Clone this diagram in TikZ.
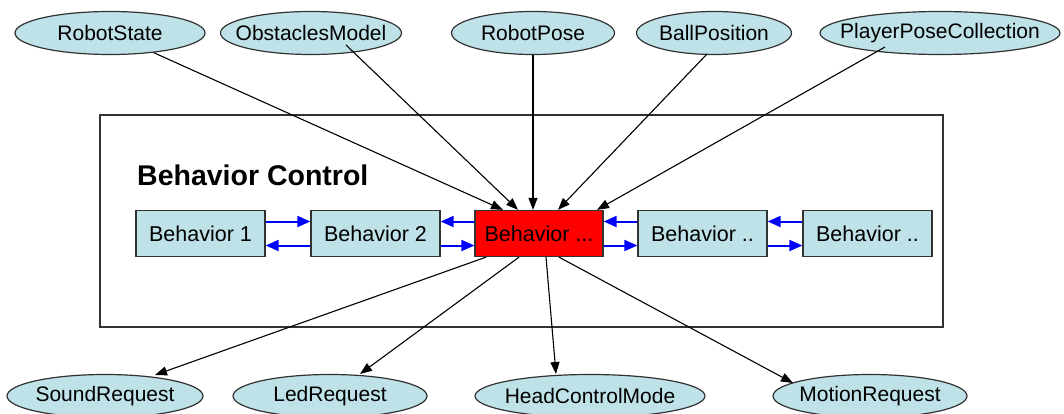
\documentclass[tikz,border=0pt]{standalone}
\usepackage{fontspec}
\setmainfont{Liberation Sans}
\usetikzlibrary{arrows.meta,shapes.geometric}
\definecolor{paleblue}{RGB}{190,226,232}
\definecolor{outline}{RGB}{50,50,50}
\definecolor{activered}{RGB}{255,0,0}
% zero-width label so the oval keeps its given size
\newcommand\ovaltext[1]{\makebox[0pt]{#1}}
\begin{document}
\begin{tikzpicture}[x=1pt,y=-1pt,
  data/.style={ellipse, draw=outline, line width=1.2pt, fill=paleblue,
    inner sep=0pt, minimum height=43pt, font=\fontsize{21}{24}\selectfont},
  behbox/.style={rectangle, draw=outline, line width=1.3pt, fill=paleblue,
    inner sep=0pt, minimum width=129pt, minimum height=46pt,
    font=\fontsize{21.5}{24}\selectfont},
  flow/.style={draw=black, line width=1.1pt, -{Triangle[length=12pt,width=9pt]}},
  link/.style={draw=blue, line width=2pt, -{Triangle[length=13pt,width=11pt]}}]
\useasboundingbox (0,0) rectangle (1064,414);

% module frame and title
\node[rectangle, draw=outline, line width=1.6pt, inner sep=0pt,
  minimum width=843pt, minimum height=212pt] (frame) at (521.5,221) {};
\node[anchor=west, inner sep=0pt, font=\fontsize{28.5}{31}\selectfont\bfseries]
  (title) at (137,175) {Behavior Control};

% input representations
\node[data, minimum width=190pt] (rs) at (110,33) {\ovaltext{RobotState}};
\node[data, minimum width=181pt] (om) at (311,33) {\ovaltext{ObstaclesModel}};
\node[data, minimum width=163pt] (rp) at (533,33) {\ovaltext{RobotPose}};
\node[data, minimum width=155pt] (bp) at (714,33) {\ovaltext{BallPosition}};
\node[data, minimum width=240pt] (pp) at (940,33) {\ovaltext{PlayerPoseCollection}};

% output representations
\node[data, minimum width=196pt] (sr) at (105,396) {\ovaltext{SoundRequest}};
\node[data, minimum width=194pt] (lr) at (330,396) {\ovaltext{LedRequest}};
\node[data, minimum width=230pt] (hc) at (590,396) {\ovaltext{HeadControlMode}};
\node[data, minimum width=194pt] (mr) at (870,396) {\ovaltext{MotionRequest}};

% behaviors
\node[behbox] (b1) at (200.5,233.5) {Behavior 1};
\node[behbox] (b2) at (375.5,233.5) {Behavior 2};
\node[behbox, fill=activered, minimum width=128pt] (ctl) at (539,233.5) {Behavior ...};
\node[behbox] (b4) at (702.5,233.5) {Behavior ..};
\node[behbox] (b5) at (867.5,233.5) {Behavior ..};

% inputs into the active behavior
\draw[flow] (rs) -- ([shift={(-36,0)}]ctl.north);
\draw[flow] ([shift={(35,12)}]om.center) -- ([shift={(-21,0)}]ctl.north);
\draw[flow] (rp.south) -- ([shift={(-6,0)}]ctl.north);
\draw[flow] ([shift={(-7,21)}]bp.center) -- ([shift={(19,0)}]ctl.north);
\draw[flow] ([shift={(-55,14)}]pp.center) -- ([shift={(58,0)}]ctl.north);

% outputs of the active behavior
\draw[flow] ([shift={(-53,0)}]ctl.south) -- ([shift={(50,-21)}]sr.center);
\draw[flow] ([shift={(-20,0)}]ctl.south) -- ([shift={(30,-22)}]lr.center);
\draw[flow] ([shift={(7,0)}]ctl.south) -- ([shift={(-34,-22)}]hc.center);
\draw[flow] ([shift={(20,0)}]ctl.south) -- ([shift={(-77,-13)}]mr.center);

% links between neighbouring behaviors
\draw[link] ([shift={(0,-12)}]b1.east) -- ([shift={(0,-12)}]b2.west);
\draw[link] ([shift={(0,12)}]b2.west) -- ([shift={(0,12)}]b1.east);
\draw[link] ([shift={(0,-12)}]ctl.west) -- ([shift={(0,-12)}]b2.east);
\draw[link] ([shift={(0,12)}]b2.east) -- ([shift={(0,12)}]ctl.west);
\draw[link] ([shift={(0,-12)}]b4.west) -- ([shift={(0,-12)}]ctl.east);
\draw[link] ([shift={(0,12)}]ctl.east) -- ([shift={(0,12)}]b4.west);
\draw[link] ([shift={(0,-12)}]b5.west) -- ([shift={(0,-12)}]b4.east);
\draw[link] ([shift={(0,12)}]b4.east) -- ([shift={(0,12)}]b5.west);
\end{tikzpicture}
\end{document}
